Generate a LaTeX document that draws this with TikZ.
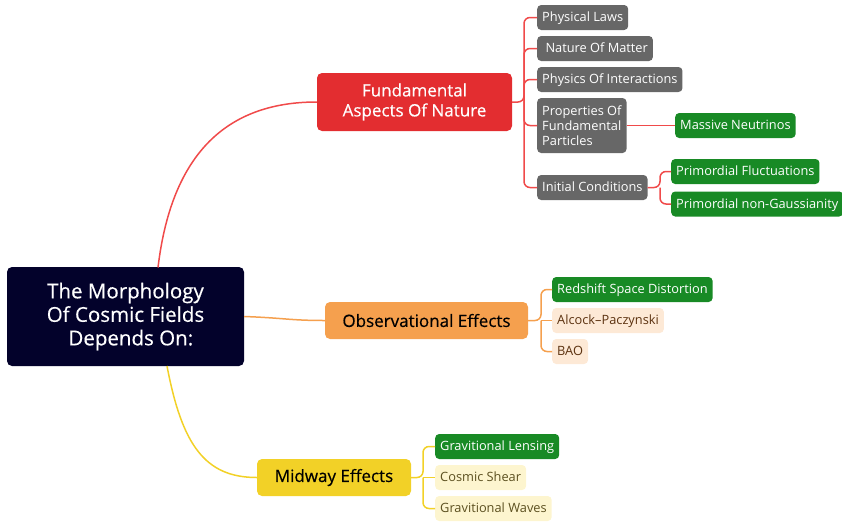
\documentclass[tikz,border=0pt]{standalone}
\usepackage{fontspec}
\setmainfont{Open Sans}
\newfontfamily\mediumfont[FakeBold=0.4]{Open Sans}
\definecolor{navy}{HTML}{03022B}
\definecolor{fred}{HTML}{E32D30}
\definecolor{fredline}{HTML}{F04A4A}
\definecolor{leafgray}{HTML}{676767}
\definecolor{leafgreen}{HTML}{188A25}
\definecolor{obsorange}{HTML}{F5A04E}
\definecolor{peach}{HTML}{FDE9D6}
\definecolor{peachtext}{HTML}{5C3210}
\definecolor{midyellow}{HTML}{F2D127}
\definecolor{paleyellow}{HTML}{FDF5CF}
\definecolor{paletext}{HTML}{5C5020}
\tikzset{
  rootbox/.style={fill=navy, text=white, rounded corners=5pt, align=center,
    minimum width=237pt, minimum height=99pt, font=\mediumfont\fontsize{20.5}{23.5}\selectfont},
  branchbox/.style={rounded corners=5pt, align=center, font=\mediumfont\fontsize{17}{20}\selectfont},
  leaf/.style={anchor=west, rounded corners=4pt, minimum height=25pt, inner xsep=5pt,
    align=left, font=\fontsize{12.8}{15}\selectfont},
  oneline/.style={text height=9.5pt, text depth=1pt},
  grayleaf/.style={leaf, fill=leafgray, text=white},
  greenleaf/.style={leaf, oneline, fill=leafgreen, text=white},
  peachleaf/.style={leaf, oneline, fill=peach, text=peachtext},
  paleleaf/.style={leaf, oneline, fill=paleyellow, text=paletext},
  redlink/.style={draw=fredline, line width=1.5pt, rounded corners=6pt},
  orangelink/.style={draw=obsorange, line width=1.5pt, rounded corners=6pt},
  yellowlink/.style={draw=midyellow, line width=1.5pt, rounded corners=6pt},
}
\begin{document}
\begin{tikzpicture}[x=1pt,y=-1pt]
\useasboundingbox (0,0) rectangle (842,522);

% central topic
\node[rootbox] (root) at (125.5,316.5) {The Morphology\\Of Cosmic Fields\\\ \ Depends On:};

% main branches
\node[branchbox, fill=fred, text=white, minimum width=195pt, minimum height=58pt] (fa) at (414.5,102) {Fundamental\\Aspects Of Nature};
\node[branchbox, fill=obsorange, text=black, minimum width=203pt, minimum height=37pt] (obs) at (426.5,320.5) {Observational Effects};
\node[branchbox, fill=midyellow, text=black, minimum width=154pt, minimum height=37pt] (mid) at (334,477.5) {Midway Effects};

% leaves of the red branch
\node[grayleaf, oneline] (pl) at (537,17.5) {Physical Laws};
\node[grayleaf, oneline] (nm) at (537,48.5) {\ Nature Of Matter};
\node[grayleaf, oneline] (pi) at (537,79.5) {Physics Of Interactions};
\node[grayleaf, minimum height=55pt, inner ysep=2pt] (pf) at (537,125.5) {Properties Of\\Fundamental\\Particles};
\node[grayleaf, oneline] (ic) at (537,187.5) {Initial Conditions};
\node[greenleaf] (mn) at (675,125.5) {Massive Neutrinos};
\node[greenleaf] (pfl) at (671,171.5) {Primordial Fluctuations};
\node[greenleaf] (png) at (671,204) {Primordial non-Gaussianity};

% leaves of the orange branch
\node[greenleaf] (rsd) at (552,289.5) {Redshift Space Distortion};
\node[peachleaf] (ap) at (552,320.5) {Alcock–Paczynski};
\node[peachleaf] (bao) at (552,351.5) {BAO};

% leaves of the yellow branch
\node[greenleaf] (gl) at (435,446.5) {Gravitional Lensing};
\node[paleleaf] (cs) at (435,477.5) {Cosmic Shear};
\node[paleleaf] (gw) at (435,508.5) {Gravitional Waves};

% trunk points
\coordinate (rt) at (524,102);
\coordinate (it) at (660,187.5);
\coordinate (ot) at (541,320.5);
\coordinate (yt) at (423,477.5);

% root to branches
\coordinate (rs) at (158,267.5);
\coordinate (ys) at (167,366);
\draw[draw=fredline, line width=1.5pt] (rs) .. controls (172,150) and (230,102) .. (fa.west);
\draw[draw=obsorange, line width=1.5pt] (root.east) .. controls (285,318) and (290,320.5) .. (obs.west);
\draw[draw=midyellow, line width=1.5pt] (ys) .. controls (182,445) and (205,477.5) .. (mid.west);

% red branch links
\draw[redlink] (fa.east) -- (rt) |- (pl.west);
\draw[redlink] (rt) |- (nm.west);
\draw[redlink] (rt) |- (pi.west);
\draw[redlink] (rt) |- (pf.west);
\draw[redlink] (rt) |- (ic.west);
\draw[redlink] (pf.east) -- (mn.west);
\draw[redlink] (ic.east) -- (it) |- (pfl.west);
\draw[redlink] (it) |- (png.west);

% orange branch links
\draw[orangelink] (obs.east) -- (ot) |- (rsd.west);
\draw[orangelink] (ot) -- (ap.west);
\draw[orangelink] (ot) |- (bao.west);

% yellow branch links
\draw[yellowlink] (mid.east) -- (yt) |- (gl.west);
\draw[yellowlink] (yt) -- (cs.west);
\draw[yellowlink] (yt) |- (gw.west);
\end{tikzpicture}
\end{document}
